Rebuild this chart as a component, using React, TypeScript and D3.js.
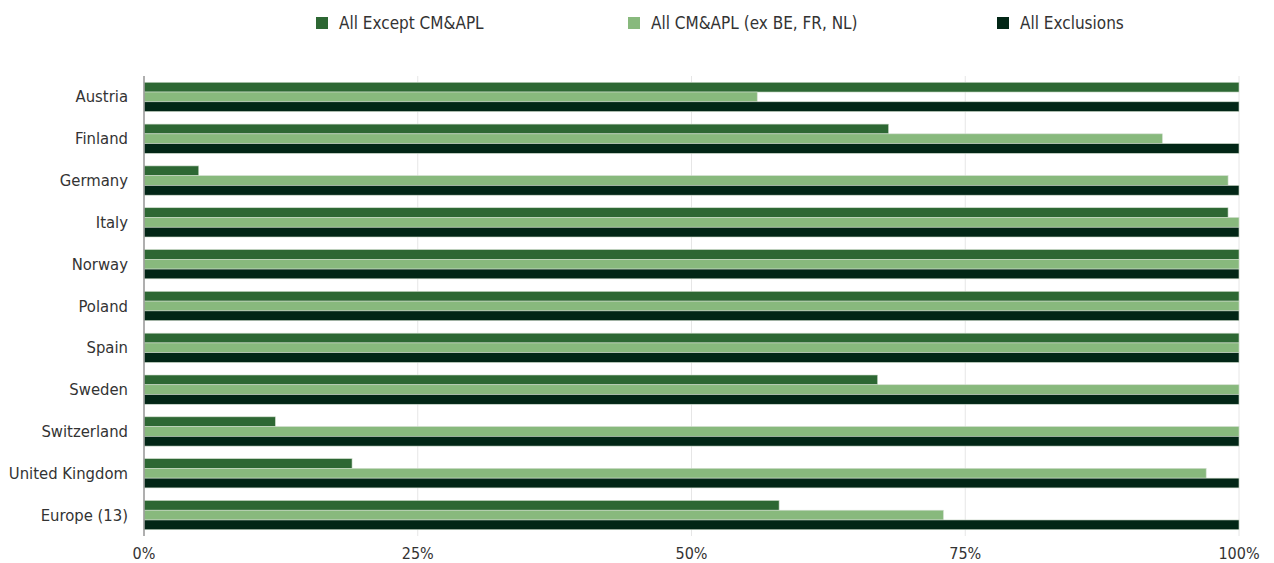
import React from "react";
import * as d3 from "d3";

const categories = ["Austria", "Finland", "Germany", "Italy", "Norway", "Poland", "Spain", "Sweden", "Switzerland", "United Kingdom", "Europe (13)"];
const seriesNames = ["All Except CM&APL", "All CM&APL (ex BE, FR, NL)", "All Exclusions"];
const allExceptCMAPL = [100, 68, 5, 99, 100, 100, 100, 67, 12, 19, 58];
const allCMAPL = [56, 93, 99, 100, 100, 100, 100, 100, 100, 97, 73];
const allExclusions = [100, 100, 100, 100, 100, 100, 100, 100, 100, 100, 100];
const xTicks = [0, 25, 50, 75, 100];
const colors = ["#2d6733", "#88b97d", "#022616"];

const W = 1274, H = 563;
const FONT = "'DejaVu Sans Condensed', 'DejaVu Sans', sans-serif";

export default function App() {
  const x = d3.scaleLinear().domain([0, 100]).range([144, 1239]);
  const y = d3.scaleBand().domain(categories).range([76, 536]).paddingInner(0.3).paddingOuter(0.15);
  const sub = d3.scaleBand().domain(seriesNames.map((_, i) => String(i))).range([0, y.bandwidth()]);
  const series = [allExceptCMAPL, allCMAPL, allExclusions];
  const legendX = [316, 628, 997];
  return (
    <svg width={W} height={H} style={{ position: "absolute", left: 0, top: 0, background: "#fff" }} fontFamily={FONT}>
      {xTicks.map((t) => (
        <line key={t} x1={x(t)} x2={x(t)} y1={76} y2={536} stroke="#e6e6e6" strokeWidth={1} />
      ))}
      {categories.map((c, ci) => (
        <g key={c}>
          {series.map((s, si) => (
            <rect key={si} x={x(0)} y={(y(c) as number) + (sub(String(si)) as number)} width={x(s[ci]) - x(0)} height={sub.bandwidth()} fill={colors[si]} stroke="#cfdccc" strokeWidth={0.6} />
          ))}
          <text x={128} y={(y(c) as number) + y.bandwidth() / 2} textAnchor="end" dominantBaseline="central" fontSize={16.5} fill="#333">{c}</text>
        </g>
      ))}
      <line x1={x(0)} x2={x(0)} y1={76} y2={536} stroke="#999" strokeWidth={1.5} />
      {xTicks.map((t) => (
        <text key={t} x={x(t)} y={553} textAnchor="middle" dominantBaseline="central" fontSize={16} fill="#333">{t}%</text>
      ))}
      {seriesNames.map((n, i) => (
        <g key={n}>
          <rect x={legendX[i]} y={17} width={12} height={12} fill={colors[i]} />
          <text x={legendX[i] + 23} y={23} dominantBaseline="central" fontSize={17} fill="#333">{n}</text>
        </g>
      ))}
    </svg>
  );
}
